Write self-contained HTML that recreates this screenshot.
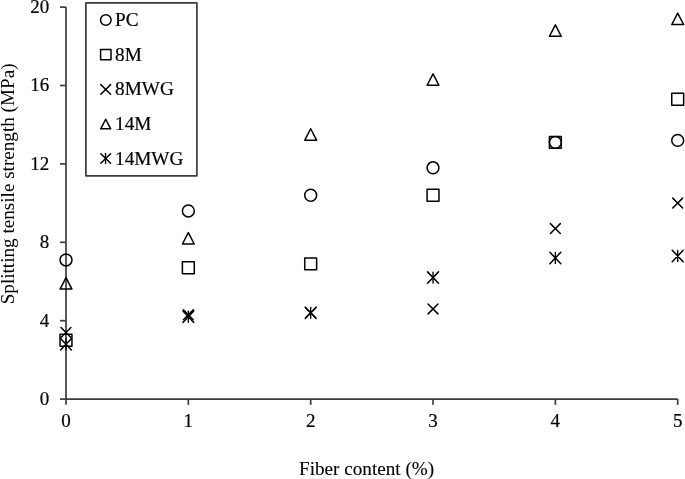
<!DOCTYPE html>
<html><head><meta charset="utf-8"><style>
html,body{margin:0;padding:0;background:#fff;}
svg{display:block;will-change:transform;}
text{font-family:"Liberation Serif",serif;fill:#000;stroke:#000;stroke-width:0.2px;}
.t{font-size:19px;}
.a{font-size:19.15px;stroke-width:0.12px;}
.y{stroke-width:0;}
.l{font-size:19.25px;}
</style></head><body>
<svg width="685" height="479" viewBox="0 0 685 479">
<path d="M66.0 7.1V399.1H677.7" fill="none" stroke="#3c3c3c" stroke-width="1.7"/>
<path d="M60 399.10H66.0" stroke="#3c3c3c" stroke-width="1.7"/>
<text class="t" x="49.3" y="405.00" text-anchor="end">0</text>
<path d="M60 320.70H66.0" stroke="#3c3c3c" stroke-width="1.7"/>
<text class="t" x="49.3" y="326.60" text-anchor="end">4</text>
<path d="M60 242.30H66.0" stroke="#3c3c3c" stroke-width="1.7"/>
<text class="t" x="49.3" y="248.20" text-anchor="end">8</text>
<path d="M60 163.90H66.0" stroke="#3c3c3c" stroke-width="1.7"/>
<text class="t" x="49.3" y="169.80" text-anchor="end">12</text>
<path d="M60 85.50H66.0" stroke="#3c3c3c" stroke-width="1.7"/>
<text class="t" x="49.3" y="91.40" text-anchor="end">16</text>
<path d="M60 7.10H66.0" stroke="#3c3c3c" stroke-width="1.7"/>
<text class="t" x="49.3" y="13.00" text-anchor="end">20</text>
<path d="M66.00 399.1V404.8" stroke="#3c3c3c" stroke-width="1.7"/>
<text class="t" x="66.00" y="427.2" text-anchor="middle">0</text>
<path d="M188.34 399.1V404.8" stroke="#3c3c3c" stroke-width="1.7"/>
<text class="t" x="188.34" y="427.2" text-anchor="middle">1</text>
<path d="M310.68 399.1V404.8" stroke="#3c3c3c" stroke-width="1.7"/>
<text class="t" x="310.68" y="427.2" text-anchor="middle">2</text>
<path d="M433.02 399.1V404.8" stroke="#3c3c3c" stroke-width="1.7"/>
<text class="t" x="433.02" y="427.2" text-anchor="middle">3</text>
<path d="M555.36 399.1V404.8" stroke="#3c3c3c" stroke-width="1.7"/>
<text class="t" x="555.36" y="427.2" text-anchor="middle">4</text>
<path d="M677.70 399.1V404.8" stroke="#3c3c3c" stroke-width="1.7"/>
<text class="t" x="677.70" y="427.2" text-anchor="middle">5</text>
<text class="a" x="366.6" y="475.0" text-anchor="middle">Fiber content (%)</text>
<text class="a y" transform="translate(14.2 183.9) rotate(-90)" text-anchor="middle">Splitting tensile strength (MPa)</text>
<circle cx="66.00" cy="259.94" r="5.95" fill="none" stroke="#000" stroke-width="1.5"/>
<circle cx="188.34" cy="210.94" r="5.95" fill="none" stroke="#000" stroke-width="1.5"/>
<circle cx="310.68" cy="195.26" r="5.95" fill="none" stroke="#000" stroke-width="1.5"/>
<circle cx="433.02" cy="167.82" r="5.95" fill="none" stroke="#000" stroke-width="1.5"/>
<circle cx="555.36" cy="142.34" r="5.95" fill="none" stroke="#000" stroke-width="1.5"/>
<circle cx="677.70" cy="140.38" r="5.95" fill="none" stroke="#000" stroke-width="1.5"/>
<rect x="60.05" y="334.35" width="11.9" height="11.9" fill="none" stroke="#000" stroke-width="1.5" stroke-linejoin="round"/>
<rect x="182.39" y="261.83" width="11.9" height="11.9" fill="none" stroke="#000" stroke-width="1.5" stroke-linejoin="round"/>
<rect x="304.73" y="257.91" width="11.9" height="11.9" fill="none" stroke="#000" stroke-width="1.5" stroke-linejoin="round"/>
<rect x="427.07" y="189.31" width="11.9" height="11.9" fill="none" stroke="#000" stroke-width="1.5" stroke-linejoin="round"/>
<rect x="549.41" y="136.39" width="11.9" height="11.9" fill="none" stroke="#000" stroke-width="1.5" stroke-linejoin="round"/>
<rect x="671.75" y="93.27" width="11.9" height="11.9" fill="none" stroke="#000" stroke-width="1.5" stroke-linejoin="round"/>
<path d="M61.05 327.51L70.95 337.41M70.95 327.51L61.05 337.41" fill="none" stroke="#000" stroke-width="1.5" stroke-linecap="round"/>
<path d="M183.39 309.87L193.29 319.77M193.29 309.87L183.39 319.77" fill="none" stroke="#000" stroke-width="1.5" stroke-linecap="round"/>
<path d="M305.73 307.91L315.63 317.81M315.63 307.91L305.73 317.81" fill="none" stroke="#000" stroke-width="1.5" stroke-linecap="round"/>
<path d="M428.07 303.99L437.97 313.89M437.97 303.99L428.07 313.89" fill="none" stroke="#000" stroke-width="1.5" stroke-linecap="round"/>
<path d="M550.41 223.63L560.31 233.53M560.31 223.63L550.41 233.53" fill="none" stroke="#000" stroke-width="1.5" stroke-linecap="round"/>
<path d="M672.75 198.15L682.65 208.05M682.65 198.15L672.75 208.05" fill="none" stroke="#000" stroke-width="1.5" stroke-linecap="round"/>
<path d="M66.00 277.71L60.10 289.11L71.90 289.11Z" fill="none" stroke="#000" stroke-width="1.5" stroke-linejoin="round"/>
<path d="M188.34 232.63L182.44 244.03L194.24 244.03Z" fill="none" stroke="#000" stroke-width="1.5" stroke-linejoin="round"/>
<path d="M310.68 128.75L304.78 140.15L316.58 140.15Z" fill="none" stroke="#000" stroke-width="1.5" stroke-linejoin="round"/>
<path d="M433.02 73.87L427.12 85.27L438.92 85.27Z" fill="none" stroke="#000" stroke-width="1.5" stroke-linejoin="round"/>
<path d="M555.36 24.87L549.46 36.27L561.26 36.27Z" fill="none" stroke="#000" stroke-width="1.5" stroke-linejoin="round"/>
<path d="M677.70 13.11L671.80 24.51L683.60 24.51Z" fill="none" stroke="#000" stroke-width="1.5" stroke-linejoin="round"/>
<path d="M60.55 338.52L71.45 349.92M71.45 338.52L60.55 349.92" fill="none" stroke="#000" stroke-width="1.5" stroke-linecap="round"/><path d="M66.00 338.72V349.72" stroke="#000" stroke-width="1.35" stroke-linecap="round"/>
<path d="M182.89 311.08L193.79 322.48M193.79 311.08L182.89 322.48" fill="none" stroke="#000" stroke-width="1.5" stroke-linecap="round"/><path d="M188.34 311.28V322.28" stroke="#000" stroke-width="1.35" stroke-linecap="round"/>
<path d="M305.23 307.16L316.13 318.56M316.13 307.16L305.23 318.56" fill="none" stroke="#000" stroke-width="1.5" stroke-linecap="round"/><path d="M310.68 307.36V318.36" stroke="#000" stroke-width="1.35" stroke-linecap="round"/>
<path d="M427.57 271.88L438.47 283.28M438.47 271.88L427.57 283.28" fill="none" stroke="#000" stroke-width="1.5" stroke-linecap="round"/><path d="M433.02 272.08V283.08" stroke="#000" stroke-width="1.35" stroke-linecap="round"/>
<path d="M549.91 252.28L560.81 263.68M560.81 252.28L549.91 263.68" fill="none" stroke="#000" stroke-width="1.5" stroke-linecap="round"/><path d="M555.36 252.48V263.48" stroke="#000" stroke-width="1.35" stroke-linecap="round"/>
<path d="M672.25 250.32L683.15 261.72M683.15 250.32L672.25 261.72" fill="none" stroke="#000" stroke-width="1.5" stroke-linecap="round"/><path d="M677.70 250.52V261.52" stroke="#000" stroke-width="1.35" stroke-linecap="round"/>
<rect x="85.9" y="2.9" width="111.00" height="172.90" fill="#fff" stroke="#3c3c3c" stroke-width="1.7" stroke-linejoin="round"/>
<circle cx="105.80" cy="20.00" r="5.3" fill="none" stroke="#000" stroke-width="1.5"/>
<text class="l" x="115.0" y="26.2">PC</text>
<rect x="100.60" y="49.40" width="10.4" height="10.4" fill="none" stroke="#000" stroke-width="1.5" stroke-linejoin="round"/>
<text class="l" x="115.0" y="60.7">8M</text>
<path d="M100.80 84.60L110.60 94.20M110.60 84.60L100.80 94.20" fill="none" stroke="#000" stroke-width="1.5" stroke-linecap="round"/>
<text class="l" x="115.0" y="95.0">8MWG</text>
<path d="M105.70 119.25L100.70 128.80L110.70 128.80Z" fill="none" stroke="#000" stroke-width="1.5" stroke-linejoin="round"/>
<text class="l" x="115.0" y="129.8">14M</text>
<path d="M100.80 153.70L110.60 163.30M110.60 153.70L100.80 163.30" fill="none" stroke="#000" stroke-width="1.5" stroke-linecap="round"/><path d="M105.55 153.50V163.50" stroke="#000" stroke-width="1.35" stroke-linecap="round"/>
<text class="l" x="115.0" y="164.9">14MWG</text>
</svg>
</body></html>
